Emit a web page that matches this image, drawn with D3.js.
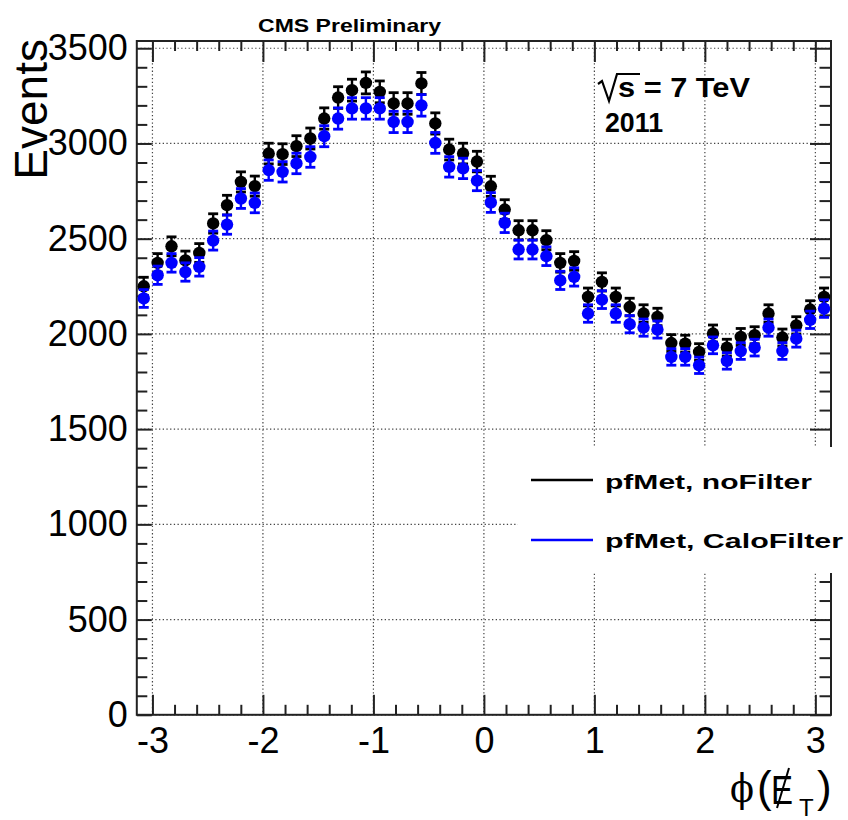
<!DOCTYPE html>
<html>
<head>
<meta charset="utf-8">
<script src="https://cdn.jsdelivr.net/npm/d3@7/dist/d3.min.js"></script>
<style>
    body { margin: 0; background: #fff; }
    svg { display: block; font-family: "Liberation Sans", Arial, sans-serif; }
    .tick text { font-size: 36px; fill: #000; }
    .tick line { stroke: #222; stroke-width: 2; }
    .grid line { stroke: #444; stroke-width: 1.2; stroke-dasharray: 1.3 2.4; }
</style>
</head>
<body>
<svg id="chart" width="848" height="820"></svg>
<script>
// phi of pfMet, 50 bins from -pi to pi
var nBins = 50;
var phiMin = -Math.PI, phiMax = Math.PI;

var noFilter = [2250, 2373, 2460, 2386, 2425, 2580, 2676, 2798, 2776, 2947,
                2944, 2986, 3026, 3131, 3241, 3280, 3318, 3271, 3210, 3210,
                3315, 3105, 2968, 2947, 2905, 2775, 2653, 2544, 2544, 2492,
                2373, 2383, 2194, 2273, 2194, 2141, 2107, 2089, 1952, 1949,
                1905, 2002, 1928, 1984, 1993, 2107, 1981, 2045, 2128, 2194];

var caloFilter = [2186, 2308, 2373, 2325, 2352, 2490, 2574, 2711, 2688, 2860,
                  2851, 2895, 2929, 3038, 3131, 3184, 3184, 3184, 3113, 3113,
                  3200, 3003, 2877, 2869, 2805, 2690, 2583, 2443, 2443, 2408,
                  2281, 2299, 2107, 2180, 2107, 2051, 2033, 2023, 1879, 1879,
                  1835, 1940, 1858, 1910, 1928, 2033, 1910, 1975, 2074, 2133];

var xTicks = [-3, -2, -1, 0, 1, 2, 3];
var yTicks = [0, 500, 1000, 1500, 2000, 2500, 3000, 3500];
var yMax = 3538;

var seriesNames = ["pfMet, noFilter", "pfMet, CaloFilter"];
var seriesColors = ["#000000", "#0000ff"];

var margin = {top: 41, left: 136.8},
    width = 694.2,
    height = 673.8;

var svg = d3.select("#chart");
var g = svg.append("g")
    .attr("transform", "translate(" + margin.left + "," + margin.top + ")");

var x = d3.scaleLinear().domain([phiMin, phiMax]).range([0, width]);
var y = d3.scaleLinear().domain([0, yMax]).range([height, 0]);

var xMinor = d3.range(-30, 31, 2).map(function (v) { return v / 10; })
    .filter(function (v) { return xTicks.indexOf(v) < 0; });
var yMinor = d3.range(0, 3501, 100)
    .filter(function (v) { return yTicks.indexOf(v) < 0; });

// plain hyphen minus like ROOT
var plain = function (d) { return String(d); };

// dotted grid
var grid = g.append("g").attr("class", "grid");
grid.selectAll(".gx").data(xTicks).enter().append("line")
    .attr("x1", d => x(d)).attr("x2", d => x(d))
    .attr("y1", 0).attr("y2", height);
grid.selectAll(".gy").data(yTicks).enter().append("line")
    .attr("x1", 0).attr("x2", width)
    .attr("y1", d => y(d)).attr("y2", d => y(d));

// axes: major and minor ticks on all four sides
function addAxis(axis, tx, ty) {
    var a = g.append("g")
        .attr("transform", "translate(" + tx + "," + ty + ")")
        .call(axis);
    a.select(".domain").remove();
    return a;
}

addAxis(d3.axisBottom(x).tickValues(xTicks).tickSize(-20).tickPadding(13)
    .tickFormat(plain), 0, height);
addAxis(d3.axisBottom(x).tickValues(xMinor).tickSize(-10).tickFormat(""), 0, height);
addAxis(d3.axisTop(x).tickValues(xTicks).tickSize(-21).tickFormat(""), 0, 0);
addAxis(d3.axisTop(x).tickValues(xMinor).tickSize(-10).tickFormat(""), 0, 0);

addAxis(d3.axisLeft(y).tickValues(yTicks).tickSize(-15).tickPadding(9)
    .tickFormat(plain), 0, 0);
addAxis(d3.axisLeft(y).tickValues(yMinor).tickSize(-10.5).tickFormat(""), 0, 0);
addAxis(d3.axisRight(y).tickValues(yTicks).tickSize(-21).tickFormat(""), width, 0);
addAxis(d3.axisRight(y).tickValues(yMinor).tickSize(-11.5).tickFormat(""), width, 0);

g.selectAll(".tick text").attr("fill", "#000");

// frame
g.append("rect")
    .attr("width", width).attr("height", height)
    .attr("fill", "none").attr("stroke", "#222").attr("stroke-width", 2);

// histograms with poisson error bars
var binW = (phiMax - phiMin) / nBins;
function drawSeries(values, color) {
    var data = values.map(function (v, i) {
        return {phi: phiMin + (i + 0.5) * binW, n: v, err: Math.sqrt(v)};
    });
    var s = g.append("g");
    var pts = s.selectAll("g.pt").data(data).enter().append("g").attr("class", "pt");
    pts.append("line")
        .attr("x1", d => x(d.phi)).attr("x2", d => x(d.phi))
        .attr("y1", d => y(d.n + d.err)).attr("y2", d => y(d.n - d.err))
        .attr("stroke", color).attr("stroke-width", 2.4);
    [1, -1].forEach(function (sgn) {
        pts.append("line")
            .attr("x1", d => x(d.phi) - 5).attr("x2", d => x(d.phi) + 5)
            .attr("y1", d => y(d.n + sgn * d.err)).attr("y2", d => y(d.n + sgn * d.err))
            .attr("stroke", color).attr("stroke-width", 2.8);
    });
    pts.append("circle")
        .attr("cx", d => x(d.phi)).attr("cy", d => y(d.n))
        .attr("r", 6.2)
        .attr("fill", color);
}
drawSeries(noFilter, seriesColors[0]);
drawSeries(caloFilter, seriesColors[1]);

// legend (white box, no border)
svg.append("rect")
    .attr("x", 518).attr("y", 447).attr("width", 330).attr("height", 126)
    .attr("fill", "#fff");
var legendY = [480, 540], legendBase = [489, 548], legendLen = [207, 238];
seriesNames.forEach(function (name, i) {
    svg.append("line")
        .attr("x1", 531).attr("x2", 593)
        .attr("y1", legendY[i]).attr("y2", legendY[i])
        .attr("stroke", seriesColors[i]).attr("stroke-width", 2.7);
    svg.append("text")
        .attr("x", 605).attr("y", legendBase[i])
        .attr("font-size", 21).attr("font-weight", "bold")
        .attr("textLength", legendLen[i]).attr("lengthAdjust", "spacingAndGlyphs")
        .text(name);
});

// labels
svg.append("text")
    .attr("x", 258).attr("y", 31.7)
    .attr("font-size", 19).attr("font-weight", "bold")
    .attr("textLength", 183).attr("lengthAdjust", "spacingAndGlyphs")
    .text("CMS Preliminary");

svg.append("path")
    .attr("d", "M598,84 L602,81 L609,101 L617,74 L640,74")
    .attr("fill", "none").attr("stroke", "#000").attr("stroke-width", 2.2);
svg.append("text")
    .attr("x", 618).attr("y", 97)
    .attr("font-size", 27).attr("font-weight", "bold")
    .attr("textLength", 132).attr("lengthAdjust", "spacingAndGlyphs")
    .text("s = 7 TeV");
svg.append("text")
    .attr("x", 605).attr("y", 131.5)
    .attr("font-size", 27).attr("font-weight", "bold")
    .attr("textLength", 58).attr("lengthAdjust", "spacingAndGlyphs")
    .text("2011");

svg.append("text")
    .attr("transform", "translate(46.7,39) rotate(-90)")
    .attr("text-anchor", "end")
    .attr("font-size", 46)
    .text("Events");

// x title: phi(MET_T), one text with placed pieces
var xt = svg.append("text").attr("y", 802).attr("font-size", 44);
xt.append("tspan").attr("x", 730).attr("font-family", "DejaVu Serif").attr("font-size", 40)
    .attr("textLength", 24).attr("lengthAdjust", "spacingAndGlyphs").text("ϕ");
xt.append("tspan").attr("x", 757).text("(");
xt.append("tspan").attr("x", 771).attr("font-size", 40).attr("dy", 2)
    .attr("textLength", 22).attr("lengthAdjust", "spacingAndGlyphs").text("E");
xt.append("tspan").attr("x", 799).attr("y", 816).attr("font-size", 24).text("T");
xt.append("tspan").attr("x", 817).attr("y", 802).text(")");
svg.append("line")
    .attr("x1", 789).attr("y1", 768).attr("x2", 777).attr("y2", 808)
    .attr("stroke", "#000").attr("stroke-width", 2);
</script>
</body>
</html>
